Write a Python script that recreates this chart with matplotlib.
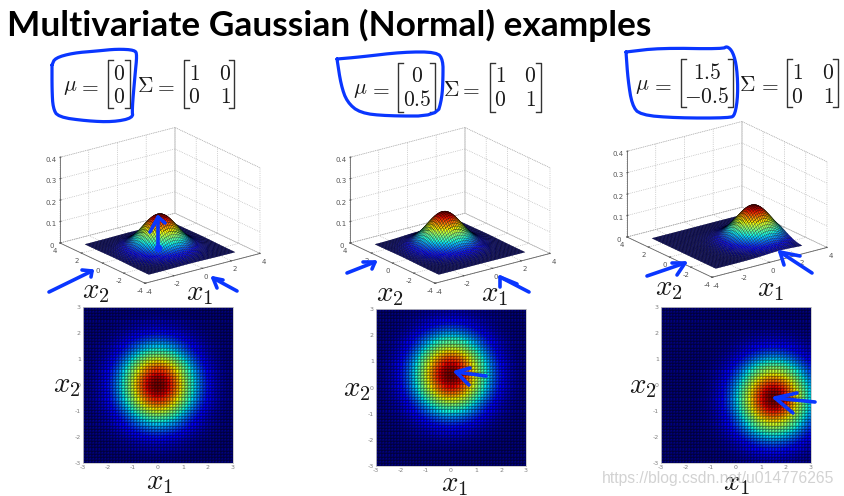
import numpy as np
import matplotlib
matplotlib.use("Agg")
import matplotlib.pyplot as plt
from mpl_toolkits.mplot3d import proj3d

W, H = 845, 496
TITLE = "Multivariate Gaussian (Normal) examples"
means = [(0.0, 0.0), (0.0, 0.5), (1.5, -0.5)]
mu_rows = [("0", "0"), ("0", "0.5"), ("1.5", "-0.5")]
sigma_rows = [("1", "0"), ("0", "1")]
surface_ticks = [-4, -2, 0, 2, 4]
z_ticks = [0, 0.1, 0.2, 0.3, 0.4]
heat_ticks = [-3, -2, -1, 0, 1, 2, 3]
grid_cells = 50
BLUE = "#0a36ff"

plt.rcParams["mathtext.fontset"] = "cm"
plt.rcParams["axes.unicode_minus"] = False
fig = plt.figure(figsize=(W / 100, H / 100), dpi=100, facecolor="white")


def gaussian(X, Y, m):
    return np.exp(-((X - m[0]) ** 2 + (Y - m[1]) ** 2) / 2) / (2 * np.pi)


edges = np.linspace(-3, 3, grid_cells + 1)
centers = (edges[:-1] + edges[1:]) / 2

targets3d = [(60, 260, 243), (350, 550, 243), (627, 827, 237)]
AZ, EL = -126.5, 20.5


def corners(ax):
    M = ax.get_proj()
    xs, ys, _ = proj3d.proj_transform(
        np.array([-4, 4.0]), np.array([4.0, -4]), np.array([0.0, 0.0]), M
    )
    return ax.transData.transform(np.column_stack([xs, ys]))


for m, (lx, rx, zy) in zip(means, targets3d):
    ax = fig.add_axes([0.1, 0.3, 0.4, 0.4], projection="3d", proj_type="ortho")
    ax.patch.set_alpha(0)
    ax.view_init(elev=EL, azim=AZ)
    ax.set_box_aspect((1, 1, 0.64), zoom=1)
    ax.set_xlim(-4, 4)
    ax.set_ylim(-4, 4)
    ax.set_zlim(0, 0.4)
    fig.canvas.draw()
    p = corners(ax)
    width = abs(p[0, 0] - p[1, 0])
    pos = ax.get_position(original=True)
    scale = (rx - lx) / width
    new_w = pos.width * scale
    new_h = pos.height * scale
    ax.set_position([0.1, 0.3, new_w, new_h])
    fig.canvas.draw()
    p = corners(ax)
    dx = lx - p[0, 0]
    dy = (H - zy) - p[0, 1]
    ax.set_position([0.1 + dx / W, 0.3 + dy / H, new_w, new_h])

    X, Y = np.meshgrid(edges, edges)
    Z = gaussian(X, Y, m)
    ax.plot_surface(X, Y, Z, cmap="jet", rstride=1, cstride=1,
                    edgecolor=(0, 0, 0, 0.7), linewidth=0.22, antialiased=True, shade=False)
    ax.set_xlim(-4, 4)
    ax.set_ylim(-4, 4)
    ax.set_zlim(0, 0.4)
    ax.set_xticks(surface_ticks)
    ax.set_yticks(surface_ticks)
    ax.set_zticks(z_ticks)
    ax.set_zticklabels(["0", "0.1", "0.2", "0.3", "0.4"])
    ax.tick_params(labelsize=5, colors="#555555", pad=-4.5, length=2, width=0.4)
    for a in (ax.xaxis, ax.yaxis, ax.zaxis):
        a.set_pane_color((1, 1, 1, 1))
        a.pane.set_edgecolor("#aaaaaa")
        a.pane.set_linewidth(0.5)
        a.pane.set_linestyle(":")
        a.line.set_color("#666666")
        a.line.set_linewidth(0.6)
        a._axinfo["grid"].update(color="#aaaaaa", linewidth=0.5, linestyle=":")
        a._axinfo["tick"]["inward_factor"] = 0.0
        a._axinfo["tick"]["outward_factor"] = 0.1

frames = [(83, 233, 307, 463), (376, 526, 309, 466), (661, 811, 307, 463)]
for m, (x0, x1, y0, y1) in zip(means, frames):
    ax = fig.add_axes([x0 / W, 1 - y1 / H, (x1 - x0) / W, (y1 - y0) / H])
    X, Y = np.meshgrid(centers, centers)
    ax.pcolormesh(edges, edges, gaussian(X, Y, m), cmap="jet",
                  edgecolors=(0, 0, 0, 0.22), linewidth=0.35)
    ax.set_xlim(-3, 3)
    ax.set_ylim(-3, 3)
    ax.set_xticks(heat_ticks)
    ax.set_yticks(heat_ticks)
    ax.tick_params(labelsize=4.5, colors="#808080", length=0, pad=1.5)
    for s in ax.spines.values():
        s.set_color("#c4c4c4")
        s.set_linewidth(0.6)

ov = fig.add_axes([0, 0, 1, 1], zorder=20)
ov.set_xlim(0, W)
ov.set_ylim(H, 0)
ov.axis("off")
ov.patch.set_alpha(0)

ov.text(7, 25, TITLE, fontfamily="Lato", fontweight="bold", fontsize=25.4,
        va="center", ha="left", color="black")


def math(x, y, s, size=15.5):
    ov.text(x, y, s, fontsize=size, ha="center", va="center_baseline", color="#1a1a1a")


def bracket(xl, xr, top, bot):
    for x, d in ((xl, 1), (xr, -1)):
        ov.plot([x + 5 * d, x, x, x + 5 * d], [top, top, bot, bot], color="#333333", lw=1.0)


formula = [
    (70, 89, 108, 130, 60, 108, 119, (72, 95), 145, 165, 184, 234, (194, 225)),
    (360, 380, 398, 435, 63, 112, 417, (74, 98), 451, 470, 490, 541, (500, 530)),
    (642, 662, 681, 733, 59, 107, 707, (71, 95), 747, 769, 787, 838, (797, 828)),
]
for f, rows in zip(formula, mu_rows):
    mx, ex, bl, br, top, bot, cx, ry, sx, sex, sl, sr, cols = f
    cy = (top + bot) / 2
    math(mx, cy, r"$\mu$")
    math(ex, cy, r"$=$")
    bracket(bl, br, top, bot)
    for r, y in zip(rows, ry):
        math(cx, y, "$" + r + "$")
    math(sx, cy, r"$\Sigma$")
    math(sex, cy, r"$=$")
    bracket(sl, sr, top, bot)
    for row, y in zip(sigma_rows, ry):
        for c, x in zip(row, cols):
            math(x, y, "$" + c + "$")

labels = [
    (96, 288, 2), (200, 290, 1), (390, 291, 2), (495, 291, 1), (669, 285, 2), (771, 286, 1),
    (160, 479, 1), (67, 382, 2), (455, 481, 1), (357, 386, 2), (737, 480, 1), (643, 383, 2),
]
for x, y, i in labels:
    math(x, y, rf"$x_{i}$", size=21)


def chaikin(pts, rounds=2):
    pts = np.asarray(pts, float)
    for _ in range(rounds):
        q = 0.75 * pts[:-1] + 0.25 * pts[1:]
        r = 0.25 * pts[:-1] + 0.75 * pts[1:]
        pts = np.vstack([pts[0], np.column_stack([q, r]).reshape(-1, 2), pts[-1]])
    return pts


strokes = [
    [(52, 65), (55, 58), (73, 53), (97, 51), (117, 49), (135, 50), (137, 55), (135, 75), (132, 110),
     (133, 118), (113, 122), (87, 121), (58, 117), (53, 108), (52, 90), (52, 65)],
    [(337, 59), (360, 57), (403, 52), (437, 52), (443, 60), (443, 78), (442, 98), (437, 116),
     (387, 116), (360, 113), (347, 102), (341, 85), (337, 59)],
    [(626, 52), (660, 48), (723, 49), (727, 46), (733, 52), (737, 68), (738, 95), (735, 115),
     (730, 118), (677, 118), (640, 115), (632, 105), (628, 80), (626, 52)],
]
arrows = [
    ((158, 248), (158, 217), (150, 232), (165, 223)),
    ((49, 292), (92, 271), (82, 270), (91, 277)),
    ((237, 291), (213, 278), (217, 288), (223, 280)),
    ((347, 273), (375, 262), (363, 262), (372, 269)),
    ((529, 292), (500, 277), (500, 287), (517, 284)),
    ((486, 376), (456, 372), (470, 368), (469, 385)),
    ((647, 276), (685, 263), (672, 263), (677, 275)),
    ((812, 273), (780, 252), (800, 256), (784, 265)),
    ((815, 402), (775, 398), (797, 393), (793, 413)),
]
for s in strokes:
    c = chaikin(s)
    ov.plot(c[:, 0], c[:, 1], color=BLUE, lw=2.3, solid_capstyle="round", solid_joinstyle="round")
for a, tip, h1, h2 in arrows:
    ov.plot([a[0], tip[0]], [a[1], tip[1]], color=BLUE, lw=2.6, solid_capstyle="round")
    ov.plot([h1[0], tip[0], h2[0]], [h1[1], tip[1], h2[1]], color=BLUE, lw=2.6,
            solid_capstyle="round", solid_joinstyle="round")
ov.plot([158], [248], "o", color=BLUE, ms=4.5)

ov.text(602, 478, "https://blog.csdn.net/u014776265", fontfamily="Liberation Sans",
        fontsize=11.35, color="#c4c4c4", alpha=0.75, va="center", ha="left")

fig.savefig("out.png", dpi=100)
